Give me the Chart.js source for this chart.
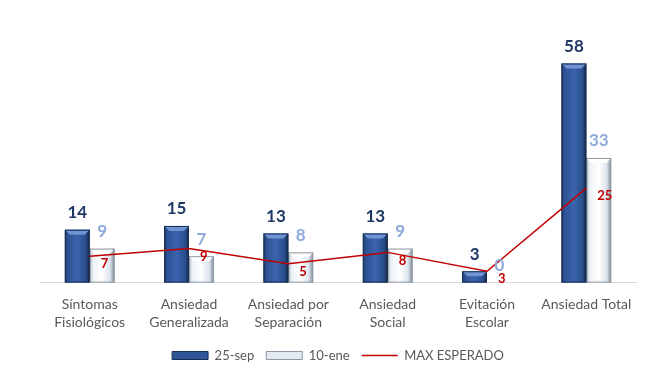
<!DOCTYPE html>
<html>
<head>
<meta charset="utf-8">
<script src="https://cdn.jsdelivr.net/npm/chart.js@4.4.1/dist/chart.umd.min.js"></script>
<style>
  html, body { margin: 0; padding: 0; background: #fff; }
  #wrap { width: 650px; height: 382px; }
</style>
</head>
<body>
<div id="wrap"><canvas id="anxChart" width="650" height="382"></canvas></div>
<script>
// categorías y series
const categories = [
  ['Síntomas', 'Fisiológicos'],
  ['Ansiedad', 'Generalizada'],
  ['Ansiedad por', 'Separación'],
  ['Ansiedad', 'Social'],
  ['Evitación', 'Escolar'],
  'Ansiedad Total'
];
const sep25 = [14, 15, 13, 13, 3, 58];
const ene10 = [9, 7, 8, 9, 0, 33];
const maxEsperado = [7, 9, 5, 8, 3, 25];

const FONT = 'Lato, "Liberation Sans", sans-serif';

// barras con degradado tipo "cilindro" de Excel
const bevelBars = {
  id: 'bevelBars',
  afterDatasetDraw(chart, args) {
    if (args.meta.type !== 'bar') return;
    const ctx = chart.ctx;
    const dark = args.index === 0;
    args.meta.data.forEach(bar => {
      const w = bar.width;
      const left = bar.x - w / 2, right = bar.x + w / 2;
      const top = bar.y, bottom = bar.base;
      const h = bottom - top;
      if (h < 1) return;
      ctx.save();
      const g = ctx.createLinearGradient(left, 0, right, 0);
      if (dark) {
        g.addColorStop(0, '#1E3865');
        g.addColorStop(0.12, '#2D5294');
        g.addColorStop(0.5, '#3B64AE');
        g.addColorStop(0.85, '#2A4E8C');
        g.addColorStop(1, '#12233F');
      } else {
        g.addColorStop(0, '#B9C4CF');
        g.addColorStop(0.15, '#EEF3F8');
        g.addColorStop(0.5, '#FFFFFF');
        g.addColorStop(0.82, '#DCE4EC');
        g.addColorStop(1, '#7F8B97');
      }
      ctx.fillStyle = g;
      ctx.fillRect(left, top, w, h);
      // bisel superior
      const b = Math.min(5, h / 2);
      ctx.beginPath();
      ctx.moveTo(left, top);
      ctx.lineTo(right, top);
      ctx.lineTo(right - b, top + b);
      ctx.lineTo(left + b, top + b);
      ctx.closePath();
      ctx.fillStyle = dark ? '#6F93D3' : '#FFFFFF';
      ctx.fill();
      ctx.strokeStyle = dark ? '#1A2F55' : '#8C98A4';
      ctx.lineWidth = 1;
      ctx.strokeRect(left + 0.5, top + 0.5, w - 1, h - 1);
      ctx.restore();
    });
  }
};

// etiquetas de valores
const valueLabels = {
  id: 'valueLabels',
  afterDatasetsDraw(chart) {
    const ctx = chart.ctx;
    ctx.save();
    ctx.textBaseline = 'middle';
    chart.data.datasets.forEach((ds, i) => {
      const meta = chart.getDatasetMeta(i);
      meta.data.forEach((el, j) => {
        const v = ds.data[j];
        if (meta.type === 'bar') {
          ctx.textAlign = 'center';
          ctx.font = 'bold 17px ' + FONT;
          ctx.fillStyle = i === 0 ? '#1F3864' : '#8EAADB';
          ctx.fillText(v, el.x, el.y - 17);
        } else {
          ctx.textAlign = 'left';
          ctx.font = 'bold 13px ' + FONT;
          ctx.fillStyle = '#C00000';
          ctx.fillText(v, el.x + 11, el.y + 8);
        }
      });
    });
    ctx.restore();
  }
};

new Chart(document.getElementById('anxChart'), {
  type: 'bar',
  data: {
    labels: categories,
    datasets: [
      {
        label: '25-sep',
        data: sep25,
        backgroundColor: '#2F5597',
        borderColor: '#1A2F55',
        borderWidth: 1,
        categoryPercentage: 0.5,
        barPercentage: 1,
        order: 1
      },
      {
        label: '10-ene',
        data: ene10,
        backgroundColor: '#E9EFF5',
        borderColor: '#8C98A4',
        borderWidth: 1,
        categoryPercentage: 0.5,
        barPercentage: 1,
        order: 1
      },
      {
        type: 'line',
        label: 'MAX ESPERADO',
        data: maxEsperado,
        borderColor: '#C00000',
        backgroundColor: '#C00000',
        borderWidth: 1.5,
        pointRadius: 0,
        tension: 0,
        order: 0
      }
    ]
  },
  options: {
    responsive: false,
    animation: false,
    layout: { padding: { left: 40, right: 14, top: 56, bottom: 10 } },
    scales: {
      x: {
        grid: { display: false },
        border: { color: '#D9D9D9', width: 1 },
        ticks: {
          color: '#595959',
          font: { family: FONT, size: 14, lineHeight: 1.3 },
          maxRotation: 0,
          autoSkip: false,
          padding: 5
        }
      },
      y: {
        display: false,
        min: 0,
        max: 60
      }
    },
    plugins: {
      tooltip: { enabled: false },
      legend: {
        position: 'bottom',
        labels: {
          sort: (a, b) => a.datasetIndex - b.datasetIndex,
          usePointStyle: true,
          pointStyleWidth: 36,
          boxHeight: 8,
          padding: 12,
          color: '#595959',
          font: { family: FONT, size: 13 },
          generateLabels(chart) {
            return chart.data.datasets.map((ds, i) => ({
              text: ds.label,
              datasetIndex: i,
              fillStyle: i === 0 ? '#2F5597' : (i === 1 ? '#E4EAF1' : '#C00000'),
              strokeStyle: i === 0 ? '#1A2F55' : (i === 1 ? '#8C98A4' : '#C00000'),
              lineWidth: i === 2 ? 1.5 : 1,
              pointStyle: i === 2 ? 'line' : 'rect',
              fontColor: '#595959',
              hidden: false
            }));
          }
        }
      }
    }
  },
  plugins: [bevelBars, valueLabels]
});
</script>
</body>
</html>
